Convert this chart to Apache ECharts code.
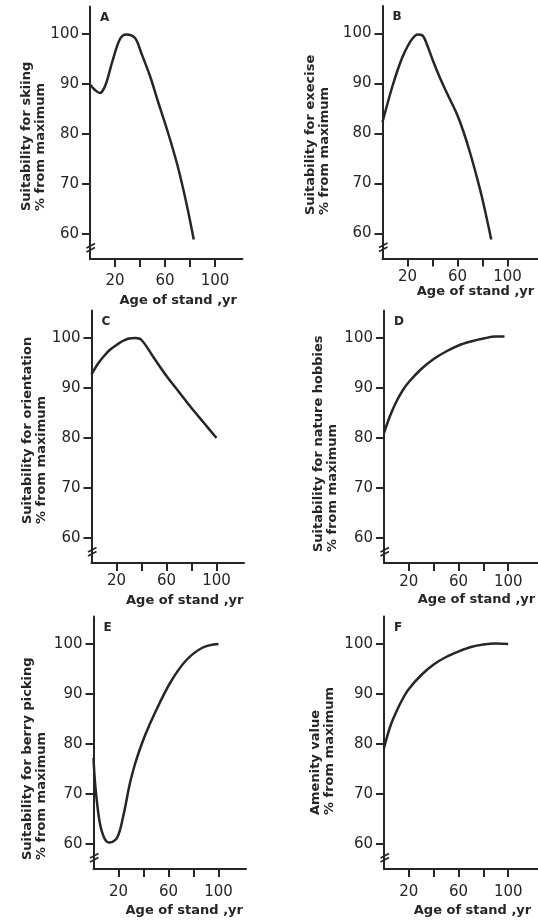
<!DOCTYPE html>
<html>
<head>
<meta charset="utf-8">
<script src="https://cdn.jsdelivr.net/npm/echarts@6/dist/echarts.min.js"></script>
<style>
  html, body { margin: 0; padding: 0; background: #fff; }
  #chart { width: 538px; height: 920px; }
</style>
</head>
<body>
<div id="chart"></div>
<script>
// ticks shared by all six panels
const yTicks = [60, 70, 80, 90, 100];
const xTicks = [20, 40, 60, 80, 100];
const xLabels = [20, 60, 100];

const letters = ["A", "B", "C", "D", "E", "F"];
const yTitles = [
  "Suitability for skiing\n% from maximum",
  "Suitability for execise\n% from maximum",
  "Suitability for orientation\n% from maximum",
  "Suitability for nature hobbies\n% from maximum",
  "Suitability for berry picking\n% from maximum",
  "Amenity value\n% from maximum",
];
const xTitle = "Age of stand ,yr";

// A - skiing
const ageA = [0, 4, 8, 10, 13, 18, 24, 29, 36, 41, 48, 54, 62, 70, 77, 83];
const valA = [89.9, 88.8, 88.2, 88.6, 90.2, 94.6, 99, 99.9, 99.2, 96.2, 91.6, 86.8, 80.6, 73.7, 66.3, 58.9];
// B - exercise
const ageB = [0, 4, 8, 12, 16, 20, 24, 28, 32, 36, 40, 45, 50, 55, 60, 65, 70, 75, 80, 87];
const valB = [82.3, 86, 89.5, 92.6, 95.3, 97.4, 99, 99.8, 99.6, 97.5, 94.8, 91.7, 88.9, 86.3, 83.6, 80.2, 76.2, 71.7, 66.8, 58.8];
// C - orientation
const ageC = [0, 5, 10, 15, 20, 25, 30, 35, 40, 50, 60, 70, 80, 90, 100];
const valC = [92.7, 94.8, 96.4, 97.7, 98.6, 99.4, 99.9, 100, 99.6, 96, 92.4, 89.2, 86, 83, 80];
// D - nature hobbies
const ageD = [0, 5, 10, 15, 20, 30, 40, 50, 60, 70, 80, 90, 97];
const valD = [81, 84.5, 87.3, 89.5, 91.2, 93.8, 95.8, 97.3, 98.5, 99.3, 99.9, 100.3, 100.3];
// E - berry picking
const ageE = [0, 1.5, 5, 9, 13, 19, 24, 29, 33, 37, 42, 48, 61, 74, 87.5, 100];
const valE = [77.2, 71.5, 64.3, 61, 60.3, 61.3, 65.8, 72, 75.8, 78.9, 82.2, 85.6, 92.1, 96.7, 99.3, 100];
// F - amenity
const ageF = [0, 5, 10, 15, 20, 30, 40, 50, 60, 70, 80, 90, 100];
const valF = [79.2, 83.5, 86.5, 89, 91, 93.8, 95.9, 97.4, 98.5, 99.4, 99.9, 100.1, 100];

const ages = [ageA, ageB, ageC, ageD, ageE, ageF];
const vals = [valA, valB, valC, valD, valE, valF];

// panel placement
const layout = [
  { left: 90, top: 6.5, width: 152.5, xMax: 122, labelGap: 15, nameGap: 35, namePad: 24, titleAt: [33.5, 211] },
  { left: 382.5, top: 6, width: 155, xMax: 124, labelGap: 11, nameGap: 23, namePad: 31, titleAt: [318, 215] },
  { left: 91.5, top: 310.5, width: 152.5, xMax: 122, labelGap: 11, nameGap: 31, namePad: 34, titleAt: [35, 524] },
  { left: 384, top: 310.5, width: 155, xMax: 124, labelGap: 12, nameGap: 30, namePad: 31, titleAt: [325.5, 552] },
  { left: 93.5, top: 616.5, width: 152.5, xMax: 122, labelGap: 16, nameGap: 35, namePad: 29, titleAt: [35, 860] },
  { left: 384, top: 616.5, width: 155, xMax: 124, labelGap: 16, nameGap: 35, namePad: 23, titleAt: [323, 815] },
];

const ink = "#262626";
const numFont = "DejaVu Sans";

const chart = echarts.init(document.getElementById("chart"), null, { renderer: "canvas" });

const option = {
  backgroundColor: "#fff",
  animation: false,
  grid: layout.map((l) => ({ left: l.left, top: l.top, width: l.width, height: 252.5 })),
  xAxis: layout.map((l, i) => ({
    type: "value",
    gridIndex: i,
    min: 0,
    max: l.xMax,
    name: xTitle,
    nameLocation: "middle",
    nameGap: l.nameGap,
    nameTextStyle: {
      color: ink,
      fontFamily: numFont,
      fontWeight: "bold",
      fontSize: 13,
      padding: [0, 0, 0, l.namePad],
    },
    axisLine: { show: true, onZero: false, lineStyle: { color: ink, width: 2 } },
    axisTick: { show: true, customValues: xTicks, length: 8, lineStyle: { color: ink, width: 2 } },
    axisLabel: { customValues: xLabels, margin: l.labelGap, color: ink, fontFamily: numFont, fontSize: 15 },
    splitLine: { show: false },
  })),
  yAxis: layout.map((l, i) => ({
    type: "value",
    gridIndex: i,
    min: 55,
    max: 105.5,
    axisLine: { show: true, onZero: false, lineStyle: { color: ink, width: 2 } },
    axisTick: { show: true, customValues: yTicks, length: 8, lineStyle: { color: ink, width: 2 } },
    axisLabel: { customValues: yTicks, margin: 11, color: ink, fontFamily: numFont, fontSize: 15 },
    splitLine: { show: false },
  })),
  series: ages.map((a, i) => ({
    type: "line",
    xAxisIndex: i,
    yAxisIndex: i,
    data: a.map((x, j) => [x, vals[i][j]]),
    smooth: 0.35,
    showSymbol: false,
    lineStyle: { color: ink, width: 2.5 },
  })),
};

chart.setOption(option);

// letters, y titles and the "//" axis breaks, placed from the axes
const graphic = [];
layout.forEach((l, i) => {
  const top = chart.convertToPixel({ gridIndex: i }, [0, 105.5]);
  graphic.push({
    type: "text",
    x: top[0] + 10,
    y: top[1] + 11,
    style: { text: letters[i], font: "bold 12px DejaVu Sans", fill: ink, align: "left", verticalAlign: "middle" },
  });
  graphic.push({
    type: "text",
    x: l.titleAt[0],
    y: l.titleAt[1],
    rotation: Math.PI / 2,
    style: {
      text: yTitles[i],
      font: "bold 13px DejaVu Sans",
      lineHeight: 14,
      fill: ink,
      align: "left",
      verticalAlign: "middle",
    },
  });
  const b = chart.convertToPixel({ gridIndex: i }, [0, 57.2]);
  [-2, 2].forEach((d) => {
    graphic.push({
      type: "line",
      shape: { x1: b[0] - 3.5, y1: b[1] + d + 2, x2: b[0] + 5, y2: b[1] + d - 2.5 },
      style: { stroke: ink, lineWidth: 1.8 },
    });
  });
});
chart.setOption({ graphic: graphic });
</script>
</body>
</html>
